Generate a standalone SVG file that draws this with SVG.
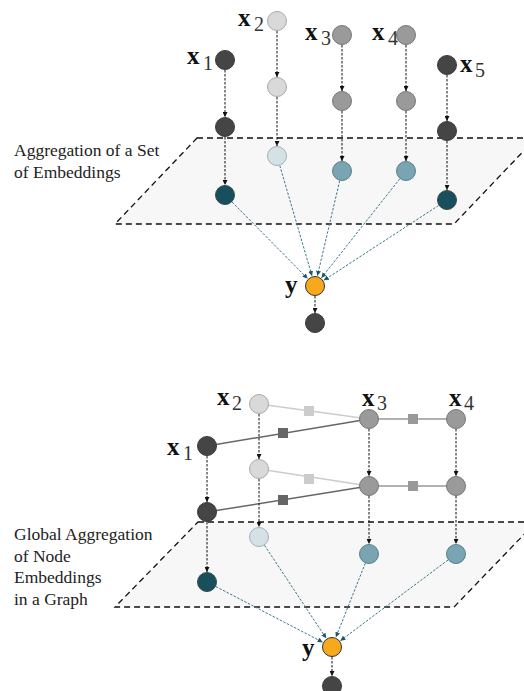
<svg xmlns="http://www.w3.org/2000/svg" width="524" height="691" viewBox="0 0 524 691">
<defs>
<marker id="ab" viewBox="0 0 6 6" refX="6" refY="3" markerWidth="5" markerHeight="5" orient="auto" markerUnits="userSpaceOnUse"><path d="M0,0 L6,3 L0,6 z" fill="#111"/></marker>
<marker id="at" viewBox="0 0 6 6" refX="6" refY="3" markerWidth="5" markerHeight="5" orient="auto" markerUnits="userSpaceOnUse"><path d="M0,0 L6,3 L0,6 z" fill="#1d5565"/></marker>
</defs>
<style>
.plane{fill:#f7f7f7;stroke:#111;stroke-width:1.3;stroke-dasharray:6,4}
.da{fill:none;stroke:#111;stroke-width:1;stroke-dasharray:2.5,1.5;marker-end:url(#ab)}
.ta{fill:none;stroke:#3a7888;stroke-width:1;stroke-dasharray:2.5,1.5;marker-end:url(#at)}
.n{stroke-width:1}
.dk{fill:#454545;stroke:#3a3a3a}
.lg{fill:#d9d9d9;stroke:#a8a8a8}
.md{fill:#9a9a9a;stroke:#767676}
.tdk{fill:#184f5d;stroke:#3a4a4f}
.tlg{fill:#d4e2e5;stroke:#9eb2b7}
.tmd{fill:#78a5b1;stroke:#5a7f89}
.or{fill:#f6a91a;stroke:#333}
.bx{font-family:'Liberation Serif','Times New Roman','DejaVu Serif',serif;font-weight:bold;font-size:25px;fill:#111}
.sb{font-family:'Liberation Serif','Times New Roman','DejaVu Serif',serif;font-size:20px;fill:#333}
.lbl{font-family:'Liberation Serif','Times New Roman','DejaVu Serif',serif;font-size:17.5px;fill:#222}
.e1{stroke:#666;stroke-width:1.5}
.e2{stroke:#cccccc;stroke-width:1.5}
.e3{stroke:#999;stroke-width:1.5}
</style>

<polygon class="plane" points="197,138 536,138 454,224 115,224"/>
<polygon class="plane" points="198,522 536,522 454,607 115,607"/>

<g font-family="Liberation Serif, serif">
<text class="lbl" x="14" y="156">Aggregation of a Set</text>
<text class="lbl" x="14" y="178">of Embeddings</text>
<text class="lbl" x="14" y="540">Global Aggregation</text>
<text class="lbl" x="14" y="562">of Node</text>
<text class="lbl" x="14" y="583">Embeddings</text>
<text class="lbl" x="14" y="605">in a Graph</text>
</g>

<g id="connectors">
<line class="da" x1="225" y1="70" x2="225" y2="117"/>
<line class="da" x1="225" y1="137" x2="225" y2="185"/>
<line class="da" x1="277" y1="31" x2="277" y2="77"/>
<line class="da" x1="277" y1="97" x2="277" y2="146"/>
<line class="da" x1="342" y1="45" x2="342" y2="91"/>
<line class="da" x1="342" y1="111" x2="342" y2="161"/>
<line class="da" x1="406" y1="45" x2="406" y2="91"/>
<line class="da" x1="406" y1="111" x2="406" y2="161"/>
<line class="da" x1="447" y1="75" x2="447" y2="121"/>
<line class="da" x1="447" y1="141" x2="447" y2="190"/>
<line class="ta" x1="232" y1="202" x2="307.6" y2="278.5"/>
<line class="ta" x1="279.8" y1="165.6" x2="312" y2="275.9"/>
<line class="ta" x1="339.7" y1="180.7" x2="317.4" y2="275.8"/>
<line class="ta" x1="399.8" y1="178.8" x2="321.5" y2="277.8"/>
<line class="ta" x1="438.6" y1="205.5" x2="323.8" y2="280.3"/>
<line class="da" x1="315" y1="296" x2="315" y2="313"/>

<line class="e1" x1="207" y1="446" x2="369" y2="419"/>
<line class="e2" x1="259" y1="404" x2="369" y2="419"/>
<line class="e3" x1="369" y1="419" x2="456" y2="419"/>
<line class="e1" x1="207" y1="512" x2="369" y2="486"/>
<line class="e2" x1="259" y1="469" x2="369" y2="486"/>
<line class="e3" x1="369" y1="486" x2="456" y2="486"/>
<rect x="278" y="428" width="10" height="10" fill="#666"/>
<rect x="304" y="406" width="10" height="10" fill="#cccccc"/>
<rect x="408" y="414" width="10" height="10" fill="#999"/>
<rect x="278" y="495" width="10" height="10" fill="#666"/>
<rect x="304" y="474" width="10" height="10" fill="#cccccc"/>
<rect x="408" y="481" width="10" height="10" fill="#999"/>

<line class="da" x1="207" y1="456" x2="207" y2="502"/>
<line class="da" x1="207" y1="522" x2="207" y2="572"/>
<line class="da" x1="259" y1="414" x2="259" y2="459"/>
<line class="da" x1="259" y1="479" x2="259" y2="527"/>
<line class="da" x1="369" y1="429" x2="369" y2="476"/>
<line class="da" x1="369" y1="496" x2="369" y2="544"/>
<line class="da" x1="456" y1="429" x2="456" y2="476"/>
<line class="da" x1="456" y1="496" x2="456" y2="544"/>
<line class="ta" x1="215.9" y1="586.6" x2="322.7" y2="642.2"/>
<line class="ta" x1="264.5" y1="545.3" x2="326.2" y2="638.3"/>
<line class="ta" x1="365.3" y1="563.3" x2="335.9" y2="637.2"/>
<line class="ta" x1="448" y1="560" x2="340.4" y2="640.7"/>
<line class="da" x1="332" y1="657" x2="332" y2="676"/>
</g>

<g id="top-x1"><circle class="n dk" cx="225" cy="60" r="9.5"/><text class="bx" x="187" y="64">x</text><text class="sb" x="203" y="70">1</text></g>
<g id="top-x1-h"><circle class="n dk" cx="225" cy="127" r="9.5"/></g>
<g id="top-x1-e"><circle class="n tdk" cx="225" cy="195" r="9.5"/></g>
<g id="top-x2"><circle class="n lg" cx="277" cy="21" r="9.5"/><text class="bx" x="238" y="26">x</text><text class="sb" x="254" y="31">2</text></g>
<g id="top-x2-h"><circle class="n lg" cx="277" cy="87" r="9.5"/></g>
<g id="top-x2-e"><circle class="n tlg" cx="277" cy="156" r="9.5"/></g>
<g id="top-x3"><circle class="n md" cx="342" cy="35" r="9.5"/><text class="bx" x="305" y="40">x</text><text class="sb" x="321" y="45">3</text></g>
<g id="top-x3-h"><circle class="n md" cx="342" cy="101" r="9.5"/></g>
<g id="top-x3-e"><circle class="n tmd" cx="342" cy="171" r="9.5"/></g>
<g id="top-x4"><circle class="n md" cx="406" cy="35" r="9.5"/><text class="bx" x="372" y="40">x</text><text class="sb" x="388" y="45">4</text></g>
<g id="top-x4-h"><circle class="n md" cx="406" cy="101" r="9.5"/></g>
<g id="top-x4-e"><circle class="n tmd" cx="406" cy="171" r="9.5"/></g>
<g id="top-x5"><circle class="n dk" cx="447" cy="65" r="9.5"/><text class="bx" x="460" y="72">x</text><text class="sb" x="475" y="77">5</text></g>
<g id="top-x5-h"><circle class="n dk" cx="447" cy="131" r="9.5"/></g>
<g id="top-x5-e"><circle class="n tdk" cx="447" cy="200" r="9.5"/></g>
<g id="top-y"><circle class="n or" cx="315" cy="286" r="9.5"/><text class="bx" x="285" y="293">y</text></g>
<g id="top-out"><circle class="n dk" cx="315" cy="323" r="9.5"/></g>

<g id="bot-x1"><circle class="n dk" cx="207" cy="446" r="9.5"/><text class="bx" x="167" y="455">x</text><text class="sb" x="183" y="460">1</text></g>
<g id="bot-x1-h"><circle class="n dk" cx="207" cy="512" r="9.5"/></g>
<g id="bot-x1-e"><circle class="n tdk" cx="207" cy="582" r="9.5"/></g>
<g id="bot-x2"><circle class="n lg" cx="259" cy="404" r="9.5"/><text class="bx" x="217" y="405">x</text><text class="sb" x="232" y="410">2</text></g>
<g id="bot-x2-h"><circle class="n lg" cx="259" cy="469" r="9.5"/></g>
<g id="bot-x2-e"><circle class="n tlg" cx="259" cy="537" r="9.5"/></g>
<g id="bot-x3"><circle class="n md" cx="369" cy="419" r="9.5"/><text class="bx" x="362" y="406">x</text><text class="sb" x="377" y="410">3</text></g>
<g id="bot-x3-h"><circle class="n md" cx="369" cy="486" r="9.5"/></g>
<g id="bot-x3-e"><circle class="n tmd" cx="369" cy="554" r="9.5"/></g>
<g id="bot-x4"><circle class="n md" cx="456" cy="419" r="9.5"/><text class="bx" x="449" y="406">x</text><text class="sb" x="464" y="410">4</text></g>
<g id="bot-x4-h"><circle class="n md" cx="456" cy="486" r="9.5"/></g>
<g id="bot-x4-e"><circle class="n tmd" cx="456" cy="554" r="9.5"/></g>
<g id="bot-y"><circle class="n or" cx="332" cy="647" r="9.5"/><text class="bx" x="302" y="656">y</text></g>
<g id="bot-out"><circle class="n dk" cx="332" cy="686" r="9.5"/></g>
</svg>
